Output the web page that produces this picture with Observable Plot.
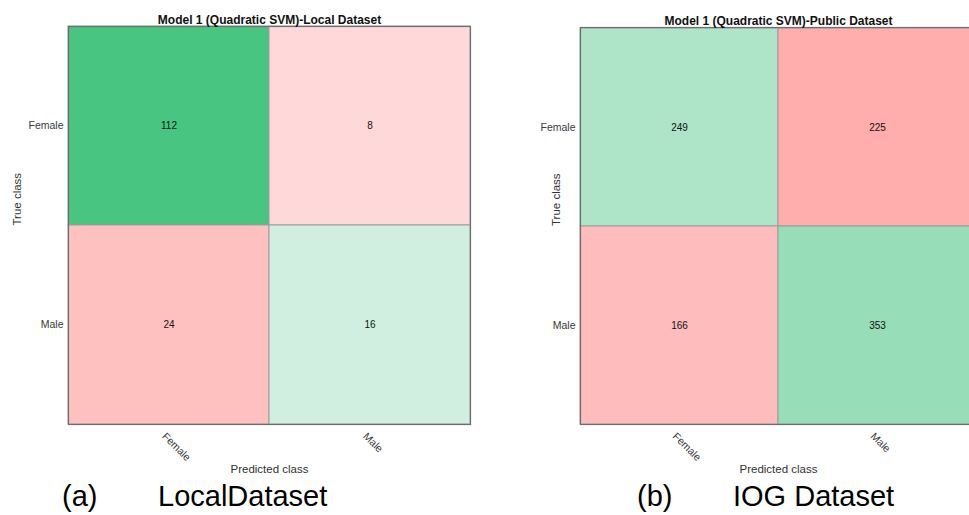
<!DOCTYPE html>
<html>
<head>
<meta charset="utf-8">
<script src="https://cdn.jsdelivr.net/npm/d3@7"></script>
<script src="https://cdn.jsdelivr.net/npm/@observablehq/plot@0.6"></script>
<style>
  html, body { margin: 0; padding: 0; background: #fff; }
  #page { position: relative; width: 969px; height: 515px; overflow: hidden; font-family: "Liberation Sans", Arial, sans-serif; }
  .panel { position: absolute; top: 0; }
  .panel svg { max-width: none !important; }
  .cap { position: absolute; font-size: 29px; line-height: 29px; color: #000; white-space: nowrap; }
</style>
</head>
<body>
<div id="page"></div>
<script>
// Class names shared by both confusion matrices
const classes = ["Female", "Male"];
// Counts in row order: true Female (pred Female, pred Male), true Male (pred Female, pred Male)
const localCounts = [112, 8, 24, 16];
const publicCounts = [249, 225, 166, 353];
const titles = ["Model 1 (Quadratic SVM)-Local Dataset", "Model 1 (Quadratic SVM)-Public Dataset"];
const captionTags = ["(a)", "(b)"];
const captionNames = ["LocalDataset", "IOG Dataset"];

// Cell shading: share of all observations, green on the diagonal, red off it
const greenShade = d3.scaleLinear().domain([0, 0.7]).range(["rgb(232,246,240)", "rgb(71,197,129)"]).clamp(true);
const redShade = d3.scaleLinear().domain([0, 0.227]).range(["rgb(255,230,230)", "rgb(255,173,173)"]).clamp(true);

function toRows(counts) {
  const total = d3.sum(counts);
  return counts.map((n, k) => {
    const actual = classes[Math.floor(k / 2)];
    const predicted = classes[k % 2];
    const frac = n / total;
    return { actual, predicted, count: n, fill: actual === predicted ? greenShade(frac) : redShade(frac) };
  });
}

function matrix(title, counts, opts) {
  const rows = toRows(counts);
  return Plot.plot({
    width: opts.width,
    height: 485,
    marginLeft: opts.marginLeft,
    marginRight: opts.marginRight,
    marginTop: opts.marginTop,
    marginBottom: 61,
    style: { fontFamily: "'Liberation Sans', Arial, sans-serif", background: "transparent" },
    x: { domain: classes, padding: 0, label: null },
    y: { domain: classes, padding: 0, label: null },
    marks: [
      Plot.cell(rows, { x: "predicted", y: "actual", fill: "fill", stroke: "#9c9c9c", strokeWidth: 1, inset: 0 }),
      Plot.text(rows, { x: "predicted", y: "actual", text: "count", fontSize: 10, fill: "#111" }),
      Plot.frame({ stroke: "#6e6e6e", strokeWidth: 1.2 }),
      Plot.axisY({ tickSize: 0, tickPadding: 5, fontSize: 10.5, color: "#3a3a3a", label: null }),
      Plot.axisX({ tickSize: 0, tickRotate: 45, tickPadding: 10, dx: -5, fontSize: 10.5, color: "#3a3a3a", label: null }),
      Plot.text(["Predicted class"], { frameAnchor: "bottom", dy: 48, fontSize: 11.5, fill: "#333" }),
      Plot.text(["True class"], { frameAnchor: "left", rotate: -90, dx: opts.yLabelDx, fontSize: 11.5, fill: "#333" }),
      Plot.text([title], { frameAnchor: "top", dy: -11, fontSize: 12, fontWeight: "bold", fill: "#111" })
    ]
  });
}

const page = document.getElementById("page");
const layouts = [
  { left: 0, width: 484, marginLeft: 68, marginRight: 14, marginTop: 26, yLabelDx: -51, tagX: 62, nameX: 158 },
  { left: 500, width: 490, marginLeft: 80, marginRight: 14, marginTop: 27, yLabelDx: -24, tagX: 637, nameX: 733 }
];
[localCounts, publicCounts].forEach((counts, i) => {
  const L = layouts[i];
  const box = document.createElement("div");
  box.className = "panel";
  box.style.left = L.left + "px";
  box.style.width = L.width + "px";
  box.appendChild(matrix(titles[i], counts, L));
  page.appendChild(box);

  const tag = document.createElement("div");
  tag.className = "cap";
  tag.style.left = L.tagX + "px";
  tag.style.top = "482px";
  tag.textContent = captionTags[i];
  page.appendChild(tag);

  const name = document.createElement("div");
  name.className = "cap";
  name.style.left = L.nameX + "px";
  name.style.top = "482px";
  name.textContent = captionNames[i];
  page.appendChild(name);
});
</script>
</body>
</html>
